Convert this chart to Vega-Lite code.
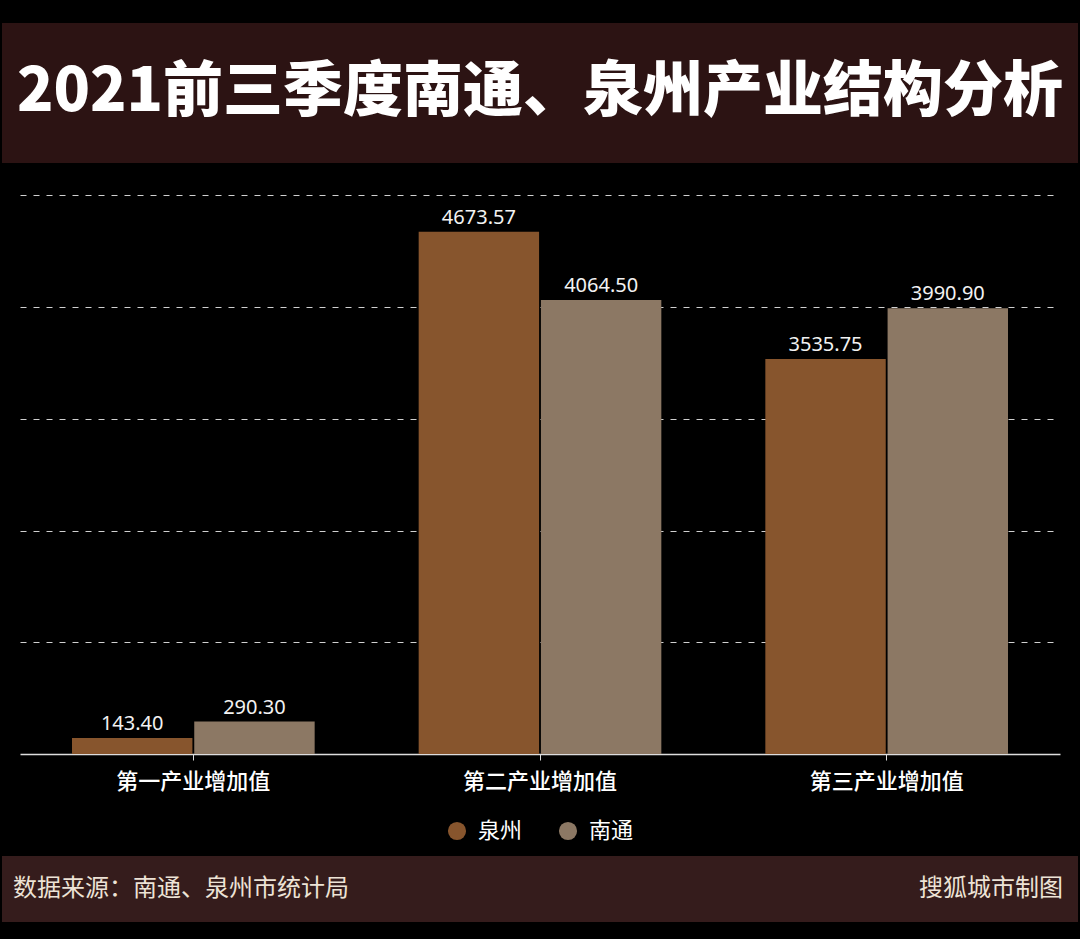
{
  "$schema": "https://vega.github.io/schema/vega-lite/v6.json",
  "background": "#000000",
  "padding": {"top": 23, "left": 2, "right": 2, "bottom": 17},
  "spacing": 0,
  "center": true,
  "config": {
    "view": {"stroke": null},
    "font": "Noto Sans CJK SC",
    "legend": {"layout": {"bottom": {"anchor": "middle"}}}
  },
  "resolve": {"scale": {"color": "independent"}, "legend": {"color": "independent"}},
  "vconcat": [
    {
      "width": 1076,
      "height": 140,
      "view": {"fill": "#2c1313", "stroke": null},
      "data": {"values": [{"title": "2021前三季度南通、泉州产业结构分析"}]},
      "mark": {"type": "text", "font": "Noto Sans CJK SC", "fontSize": 60, "fontWeight": 900, "color": "#ffffff", "baseline": "middle", "align": "center"},
      "encoding": {"text": {"field": "title", "type": "nominal"}}
    },
    {
      "width": 1040,
      "height": 591,
      "data": {
        "values": [
          {"industry": "第一产业增加值", "city": "泉州", "value": 143.40},
          {"industry": "第一产业增加值", "city": "南通", "value": 290.30},
          {"industry": "第二产业增加值", "city": "泉州", "value": 4673.57},
          {"industry": "第二产业增加值", "city": "南通", "value": 4064.50},
          {"industry": "第三产业增加值", "city": "泉州", "value": 3535.75},
          {"industry": "第三产业增加值", "city": "南通", "value": 3990.90}
        ]
      },
      "encoding": {
        "x": {
          "field": "industry", "type": "nominal",
          "sort": ["第一产业增加值", "第二产业增加值", "第三产业增加值"],
          "scale": {"paddingInner": 0.3, "paddingOuter": 0.15},
          "axis": {
            "title": null, "labelAngle": 0, "labelFontSize": 22, "labelFontWeight": 500,
            "labelColor": "#ffffff", "labelPadding": 11, "domainColor": "#dddddd", "domainWidth": 1.5,
            "tickColor": "#dddddd", "tickSize": 6, "grid": false
          }
        },
        "xOffset": {"field": "city", "type": "nominal", "sort": ["泉州", "南通"], "scale": {"paddingInner": 0.015}},
        "y": {
          "field": "value", "type": "quantitative",
          "scale": {"domain": [0, 5290], "nice": false, "zero": true},
          "axis": {
            "values": [1000, 2000, 3000, 4000, 5000], "grid": true, "gridDash": [6, 7],
            "gridColor": "#d0d0d0", "gridWidth": 1.2, "labels": false, "ticks": false, "domain": false, "title": null
          }
        }
      },
      "layer": [
        {
          "mark": {"type": "bar"},
          "encoding": {
            "color": {
              "field": "city", "type": "nominal",
              "scale": {"domain": ["泉州", "南通"], "range": ["#87552d", "#8c7864"]},
              "legend": {
                "title": null, "orient": "bottom", "direction": "horizontal", "symbolType": "circle",
                "symbolSize": 330, "symbolStrokeWidth": 0, "labelFontSize": 22, "labelColor": "#ffffff",
                "columnPadding": 34, "labelOffset": 10, "offset": 14, "padding": 14
              }
            }
          }
        },
        {
          "mark": {"type": "text", "baseline": "bottom", "dy": -4, "fontSize": 20, "color": "#f2f2f2", "font": "Noto Sans"},
          "encoding": {"text": {"field": "value", "type": "quantitative", "format": ".2f"}}
        }
      ]
    },
    {
      "width": 1076,
      "height": 66,
      "view": {"fill": "#351c1c", "stroke": null},
      "data": {
        "values": [
          {"pos": "left", "t": "数据来源：南通、泉州市统计局"},
          {"pos": "right", "t": "搜狐城市制图"}
        ]
      },
      "encoding": {
        "x": {"field": "pos", "type": "nominal", "scale": {"type": "point", "domain": ["left", "right"], "padding": 0}, "axis": null},
        "text": {"field": "t", "type": "nominal"}
      },
      "layer": [
        {
          "transform": [{"filter": "datum.pos === 'left'"}],
          "mark": {"type": "text", "align": "left", "baseline": "middle", "dx": 11, "fontSize": 24, "color": "#ede3d6"}
        },
        {
          "transform": [{"filter": "datum.pos === 'right'"}],
          "mark": {"type": "text", "align": "right", "baseline": "middle", "dx": -15, "fontSize": 24, "color": "#ede3d6"}
        }
      ]
    }
  ]
}
